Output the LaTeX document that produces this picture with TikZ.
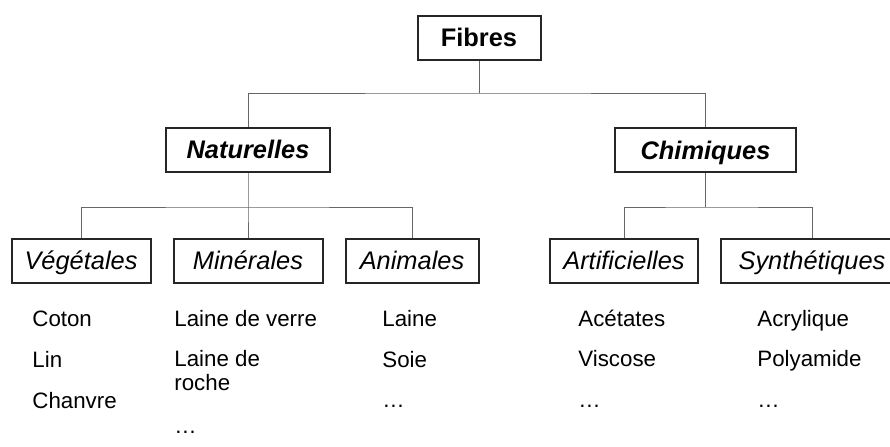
\documentclass[tikz,border=0pt]{standalone}
\usepackage{fontspec}
\setmainfont{Liberation Sans}
\usepackage{tikz}

\begin{document}
\begin{tikzpicture}[x=0.5pt, y=-0.5pt,
	box/.style={draw=black!85, line width=1pt, fill=white, minimum height=22pt, inner sep=0pt, text height=11.7pt, text depth=2.6pt, font=\fontsize{12.7}{15}\selectfont},
	leaf/.style={anchor=base west, inner sep=0pt, align=left, font=\fontsize{11.15}{12}\selectfont},
	link/.style={draw=black!60, line width=0.5pt}]
	\useasboundingbox (0,0) rectangle (890,446);

	%boites
	\node[box, minimum width=61.5pt] (fib) at (479,37.5) {\textbf{Fibres}};
	\node[box, minimum width=82pt] (nat) at (248,149.5) {\textbf{\textit{Naturelles}}};
	\node[box, minimum width=90.5pt] (chi) at (705.5,150) {\textbf{\textit{Chimiques}}};
	\node[box, minimum width=69.5pt] (veg) at (81,260.5) {\textit{Végétales}};
	\node[box, minimum width=74.5pt] (min) at (248,260.5) {\textit{Minérales}};
	\node[box, minimum width=66.5pt] (ani) at (412,260.5) {\textit{Animales}};
	\node[box, minimum width=74pt] (art) at (624,260.5) {\textit{Artificielles}};
	\node[box, minimum width=91pt] (syn) at (812,260.5) {\textit{Synthétiques}};

	%liens
	\coordinate (j1) at (479,93);
	\coordinate (j2) at (248,207);
	\coordinate (j3) at (705.5,207);
	\draw[link] (fib.south) -- (j1);
	\draw[link] (nat.north) |- (j1) -| (chi.north);
	\draw[link] (nat.south) -- (j2) -- (min.north);
	\draw[link] (veg.north) |- (j2) -| (ani.north);
	\draw[link] (chi.south) -- (j3);
	\draw[link] (art.north) |- (j3) -| (syn.north);

	%exemples
	\node[leaf] (coton) at (32,326) {Coton};
	\node[leaf] (lin) at (32,367) {Lin};
	\node[leaf] (chanvre) at (32,408) {Chanvre};
	\node[leaf] (verre) at (174,326) {Laine de verre};
	\node[leaf] (roche) at (174,390) {Laine de\\roche};
	\node[leaf] (mdots) at (174,433) {…};
	\node[leaf] (laine) at (382,326) {Laine};
	\node[leaf] (soie) at (382,367) {Soie};
	\node[leaf] (adots) at (382,407) {…};
	\node[leaf] (acet) at (578,326) {Acétates};
	\node[leaf] (visc) at (578,366) {Viscose};
	\node[leaf] (rdots) at (578,407) {…};
	\node[leaf] (acry) at (757,326) {Acrylique};
	\node[leaf] (poly) at (757,366) {Polyamide};
	\node[leaf] (sdots) at (757,407) {…};
\end{tikzpicture}
\end{document}
